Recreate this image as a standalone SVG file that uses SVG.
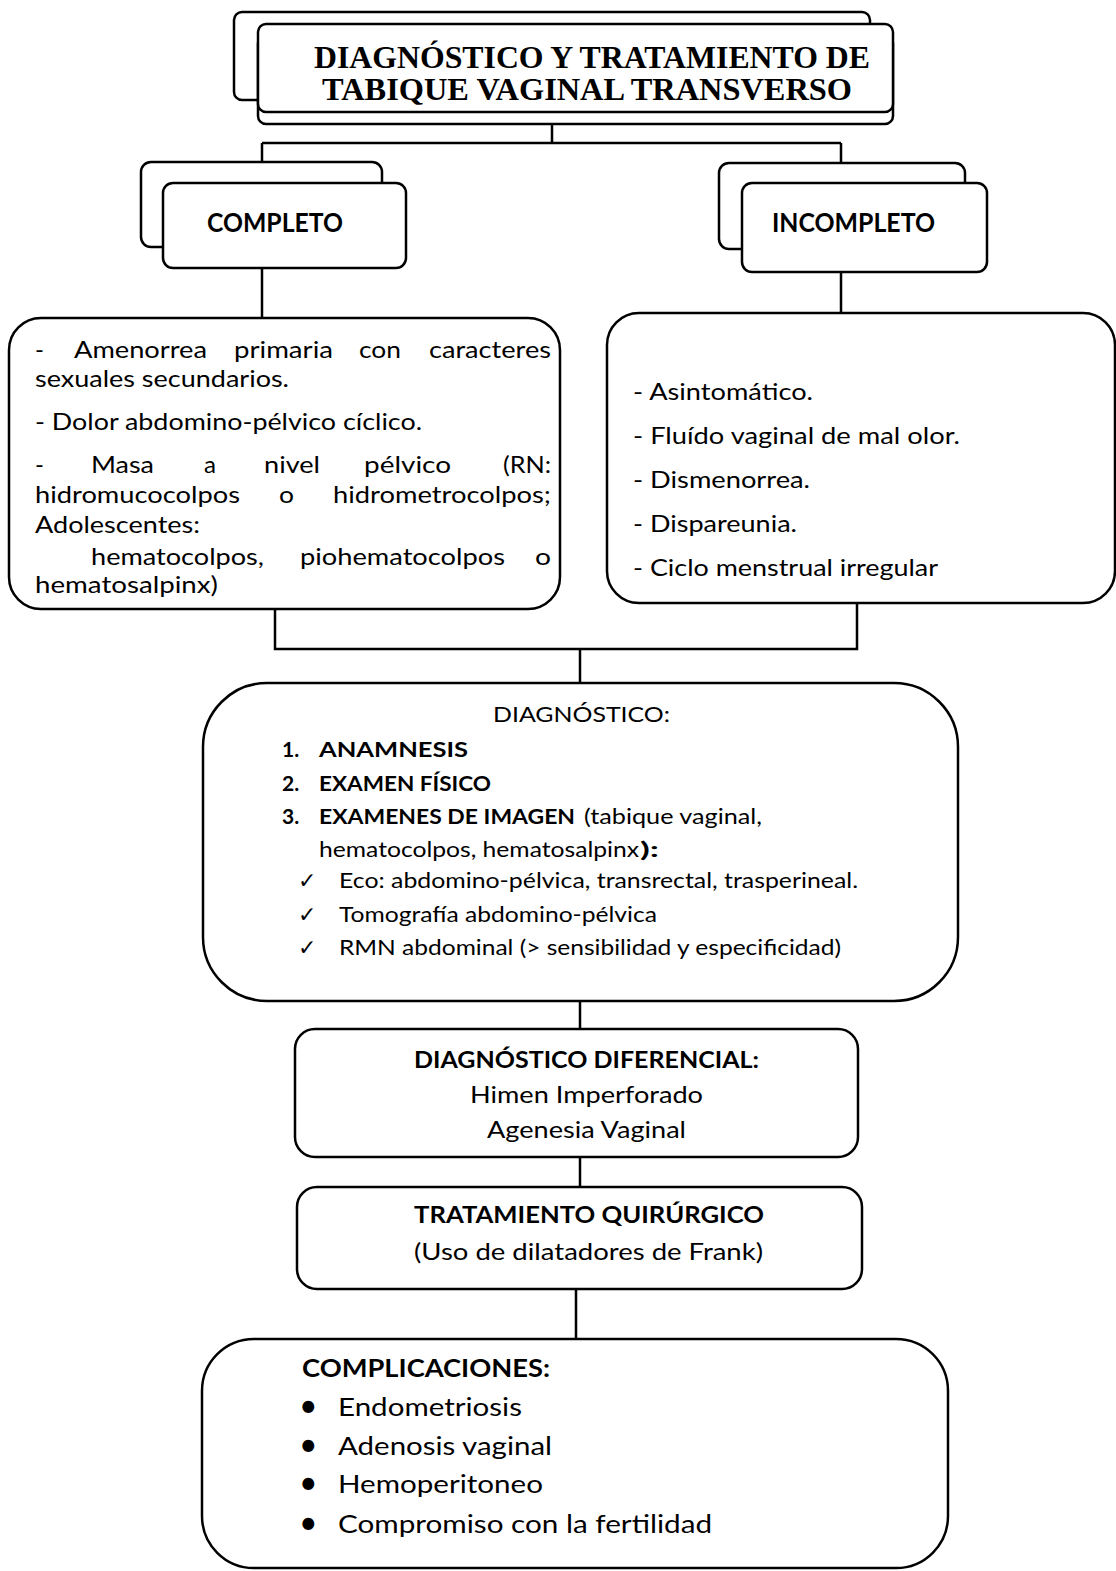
<svg xmlns="http://www.w3.org/2000/svg" width="1116" height="1571" viewBox="0 0 1116 1571">
<style>
.box{fill:#fff;stroke:#000;stroke-width:2.5}
.ln{fill:none;stroke:#000;stroke-width:2.5}
.t{font-family:Lato,"Open Sans",sans-serif;fill:#000}
.b{font-weight:bold}
.ser{font-family:"Liberation Serif","Times New Roman",serif;font-weight:bold;font-size:32px}
.ck{font-family:"DejaVu Sans",sans-serif;font-size:22px}
</style>
<rect width="1116" height="1571" fill="#fff"/>
<g id="connectors">
<path class="ln" d="M552 123V143M262 143H841M262 143V162M841 143V163"/>
<path class="ln" d="M262 268V318M841 272V313"/>
<path class="ln" d="M275 608V649H857V603M580 649V682"/>
<path class="ln" d="M580 1001V1029M580 1157V1187M576 1289V1339"/>
</g>
<g id="title">
<rect class="box" x="234" y="12" width="636" height="88" rx="8"/>
<rect class="box" x="258" y="35" width="635" height="89" rx="8"/>
<rect class="box" x="258" y="24" width="635" height="88" rx="8"/>
<text class="ser" x="314" y="68" textLength="556" lengthAdjust="spacingAndGlyphs">DIAGNÓSTICO Y TRATAMIENTO DE</text>
<text class="ser" x="322" y="100" textLength="530" lengthAdjust="spacingAndGlyphs">TABIQUE VAGINAL TRANSVERSO</text>
</g>
<g id="completo">
<rect class="box" x="141" y="162" width="241" height="85" rx="10"/>
<rect class="box" x="163" y="183" width="243" height="85" rx="10"/>
<text class="t b" x="207" y="232" font-size="26" textLength="136" lengthAdjust="spacingAndGlyphs">COMPLETO</text>
</g>
<g id="incompleto">
<rect class="box" x="719" y="163" width="246" height="86" rx="10"/>
<rect class="box" x="742" y="183" width="245" height="89" rx="10"/>
<text class="t b" x="772" y="232" font-size="26" textLength="163" lengthAdjust="spacingAndGlyphs">INCOMPLETO</text>
</g>
<g id="sintomas-completo">
<rect class="box" x="9" y="318" width="551" height="291" rx="32"/>
<g class="t" font-size="24">
<text x="35" y="358">-</text>
<text x="74" y="358" textLength="133" lengthAdjust="spacingAndGlyphs">Amenorrea</text>
<text x="234" y="358" textLength="99" lengthAdjust="spacingAndGlyphs">primaria</text>
<text x="359" y="358" textLength="42" lengthAdjust="spacingAndGlyphs">con</text>
<text x="429" y="358" textLength="122" lengthAdjust="spacingAndGlyphs">caracteres</text>
<text x="35" y="387" textLength="254" lengthAdjust="spacingAndGlyphs">sexuales secundarios.</text>
<text x="35" y="430" textLength="387" lengthAdjust="spacingAndGlyphs">- Dolor abdomino-pélvico cíclico.</text>
<text x="35" y="473">-</text>
<text x="91" y="473" textLength="63" lengthAdjust="spacingAndGlyphs">Masa</text>
<text x="204" y="473" textLength="12" lengthAdjust="spacingAndGlyphs">a</text>
<text x="264" y="473" textLength="56" lengthAdjust="spacingAndGlyphs">nivel</text>
<text x="364" y="473" textLength="87" lengthAdjust="spacingAndGlyphs">pélvico</text>
<text x="503" y="473" textLength="48" lengthAdjust="spacingAndGlyphs">(RN:</text>
<text x="35" y="503" textLength="205" lengthAdjust="spacingAndGlyphs">hidromucocolpos</text>
<text x="279" y="503" textLength="15" lengthAdjust="spacingAndGlyphs">o</text>
<text x="333" y="503" textLength="218" lengthAdjust="spacingAndGlyphs">hidrometrocolpos;</text>
<text x="35" y="533" textLength="165" lengthAdjust="spacingAndGlyphs">Adolescentes:</text>
<text x="91" y="565" textLength="173" lengthAdjust="spacingAndGlyphs">hematocolpos,</text>
<text x="300" y="565" textLength="205" lengthAdjust="spacingAndGlyphs">piohematocolpos</text>
<text x="535" y="565" textLength="16" lengthAdjust="spacingAndGlyphs">o</text>
<text x="35" y="593" textLength="183" lengthAdjust="spacingAndGlyphs">hematosalpinx)</text>
</g>
</g>
<g id="sintomas-incompleto">
<rect class="box" x="607" y="313" width="508" height="290" rx="32"/>
<g class="t" font-size="24">
<text x="633" y="400" textLength="180" lengthAdjust="spacingAndGlyphs">- Asintomático.</text>
<text x="633" y="444" textLength="327" lengthAdjust="spacingAndGlyphs">- Fluído vaginal de mal olor.</text>
<text x="633" y="488" textLength="177" lengthAdjust="spacingAndGlyphs">- Dismenorrea.</text>
<text x="633" y="532" textLength="164" lengthAdjust="spacingAndGlyphs">- Dispareunia.</text>
<text x="633" y="576" textLength="305" lengthAdjust="spacingAndGlyphs">- Ciclo menstrual irregular</text>
</g>
</g>
<g id="diagnostico">
<rect class="box" x="203" y="683" width="755" height="318" rx="64"/>
<g class="t" font-size="21">
<text x="493" y="722" textLength="177" lengthAdjust="spacingAndGlyphs">DIAGNÓSTICO:</text>
<text class="b" x="282" y="757">1.</text>
<text class="b" x="319" y="757" textLength="149" lengthAdjust="spacingAndGlyphs">ANAMNESIS</text>
<text class="b" x="282" y="791">2.</text>
<text class="b" x="319" y="791" textLength="172" lengthAdjust="spacingAndGlyphs">EXAMEN FÍSICO</text>
<text class="b" x="282" y="824">3.</text>
<text class="b" x="319" y="824" textLength="256" lengthAdjust="spacingAndGlyphs">EXAMENES DE IMAGEN</text>
<text x="584" y="824" textLength="178" lengthAdjust="spacingAndGlyphs">(tabique vaginal,</text>
<text x="319" y="857" textLength="320" lengthAdjust="spacingAndGlyphs">hematocolpos, hematosalpinx</text>
<text class="b" x="640" y="857" textLength="19" lengthAdjust="spacingAndGlyphs">):</text>
<text class="ck" x="298" y="888">✓</text>
<text x="339" y="888" textLength="519" lengthAdjust="spacingAndGlyphs">Eco: abdomino-pélvica, transrectal, trasperineal.</text>
<text class="ck" x="298" y="922">✓</text>
<text x="339" y="922" textLength="318" lengthAdjust="spacingAndGlyphs">Tomografía abdomino-pélvica</text>
<text class="ck" x="298" y="955">✓</text>
<text x="339" y="955" textLength="502" lengthAdjust="spacingAndGlyphs">RMN abdominal (&gt; sensibilidad y especificidad)</text>
</g>
</g>
<g id="diagnostico-diferencial">
<rect class="box" x="295" y="1029" width="563" height="128" rx="20"/>
<g class="t" font-size="23">
<text class="b" x="414" y="1068" textLength="345" lengthAdjust="spacingAndGlyphs">DIAGNÓSTICO DIFERENCIAL:</text>
<text x="470" y="1103" textLength="233" lengthAdjust="spacingAndGlyphs">Himen Imperforado</text>
<text x="487" y="1138" textLength="199" lengthAdjust="spacingAndGlyphs">Agenesia Vaginal</text>
</g>
</g>
<g id="tratamiento">
<rect class="box" x="297" y="1187" width="565" height="102" rx="20"/>
<g class="t" font-size="23">
<text class="b" x="414" y="1223" textLength="350" lengthAdjust="spacingAndGlyphs">TRATAMIENTO QUIRÚRGICO</text>
<text x="414" y="1260" textLength="349" lengthAdjust="spacingAndGlyphs">(Uso de dilatadores de Frank)</text>
</g>
</g>
<g id="complicaciones">
<rect class="box" x="202" y="1339" width="746" height="229" rx="52"/>
<g class="t" font-size="25">
<text class="b" x="302" y="1377" textLength="248" lengthAdjust="spacingAndGlyphs">COMPLICACIONES:</text>
<text x="299" y="1417" font-size="32">•</text><text x="338" y="1416" textLength="184" lengthAdjust="spacingAndGlyphs">Endometriosis</text>
<text x="299" y="1456" font-size="32">•</text><text x="338" y="1455" textLength="214" lengthAdjust="spacingAndGlyphs">Adenosis vaginal</text>
<text x="299" y="1494" font-size="32">•</text><text x="338" y="1493" textLength="205" lengthAdjust="spacingAndGlyphs">Hemoperitoneo</text>
<text x="299" y="1534" font-size="32">•</text><text x="338" y="1533" textLength="374" lengthAdjust="spacingAndGlyphs">Compromiso con la fertilidad</text>
</g>
</g>
</svg>
